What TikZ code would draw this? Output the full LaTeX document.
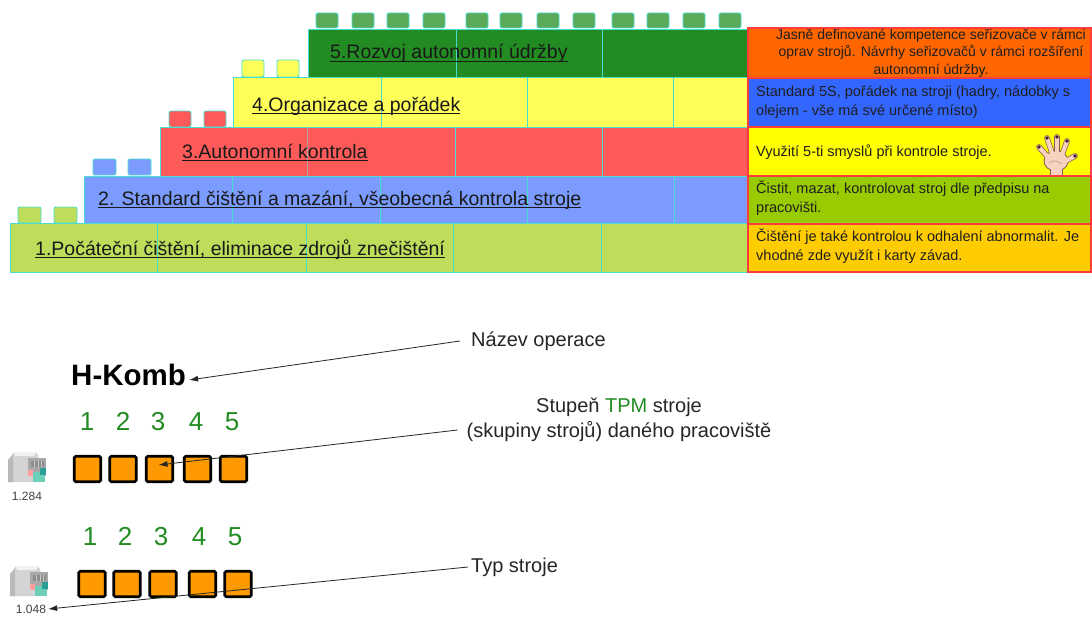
\documentclass[tikz,border=0pt]{standalone}
\usepackage{fontspec}
\setmainfont{Liberation Sans}
\usetikzlibrary{arrows.meta}

\definecolor{rowA}{HTML}{BEDD5A}
\definecolor{rowB}{HTML}{7B9BFF}
\definecolor{rowC}{HTML}{FF5A5A}
\definecolor{rowD}{HTML}{FFFF5A}
\definecolor{rowE}{HTML}{228B22}
\definecolor{studE}{HTML}{5AAA5A}
\definecolor{seam}{HTML}{48DDD0}
\definecolor{boxEdge}{HTML}{FF3B3B}
\definecolor{bxOrange}{HTML}{FF6600}
\definecolor{bxBlue}{HTML}{3366FF}
\definecolor{bxYellow}{HTML}{FFFF00}
\definecolor{bxGreen}{HTML}{99CC00}
\definecolor{bxGold}{HTML}{FFCC00}
\definecolor{levelGreen}{HTML}{228B22}
\definecolor{cellOrange}{HTML}{FF9900}
\definecolor{skin}{HTML}{F6D3BE}
\definecolor{handEdge}{HTML}{8A5A50}
\definecolor{nail}{HTML}{3A2028}
\definecolor{steel}{HTML}{D4D4D4}
\definecolor{steelDark}{HTML}{A8A8A8}
\definecolor{coolant}{HTML}{6CCFB8}

% underline drawn at a fixed depth below the baseline
\newcommand{\ulbar}[1]{\begingroup\setbox0\hbox{#1}\rlap{\rule[-3pt]{\wd0}{1.2pt}}\box0\endgroup}

\tikzset{
  brick/.style={draw=seam, line width=0.9pt},
  seamline/.style={draw=seam, line width=0.9pt},
  stud/.style={draw=seam, line width=0.9pt, rounded corners=2pt},
  blabel/.style={anchor=base west, inner sep=0pt, font=\fontsize{19.5}{22}\selectfont, text=black!90},
  rbox/.style={draw=boxEdge, line width=1.3pt, minimum width=343pt, inner sep=0pt},
  rtext/.style={font=\fontsize{14.5}{18.5}\selectfont, inner sep=0pt, text=black!88},
  cell/.style={draw=black, line width=2.7pt, fill=cellOrange, rounded corners=1.5pt,
    minimum width=26.5pt, minimum height=25.5pt, inner sep=0pt},
  digit/.style={font=\fontsize{26}{26}\selectfont, text=levelGreen, inner sep=0pt, anchor=base},
  callout/.style={font=\fontsize{20}{25}\selectfont, inner sep=0pt, text=black!85},
  pointer/.style={draw=black!85, line width=0.8pt, -{Latex[length=9pt,width=6pt]}},
  tag/.style={font=\fontsize{12}{12}\selectfont, inner sep=0pt, text=black!75},
  machine/.pic={
    \fill[steel] (0,8) -- (6,0) -- (28,0) -- (30,3) -- (30,30) -- (0,30) -- cycle;
    \fill[steelDark!80] (0,8) -- (5,3) -- (5,30) -- (0,30) -- cycle;
    \fill[white!70!steel] (6,0) -- (28,0) -- (26,4) -- (7,4) -- cycle;
    \fill[steelDark] (20,6) rectangle (38,24);
    \fill[black!45] (23,9) rectangle (36,15);
    \draw[steelDark!60, line width=0.6pt] (26,9) -- (26,15) (30,9) -- (30,15) (33,9) -- (33,15);
    \fill[pink!70!red!80] (20,18) rectangle (25,24);
    \fill[coolant] (25,20) rectangle (37,30);
    \fill[teal!60!coolant] (32,16) rectangle (38,23);
  },
  hand/.pic={
    \foreach \bx/\by/\tx/\ty in {12/22/4/13, 17/19/12/4, 22/19/22/3, 27/21/32/7, 29/28/40/22}
      \draw[handEdge, line width=5.6pt, line cap=round] (\bx,\by) -- (\tx,\ty);
    \fill[handEdge] (21,27) ellipse (12.5 and 10.5);
    \fill[handEdge] (14.5,33) rectangle (27.5,41);
    \foreach \bx/\by/\tx/\ty in {12/22/4/13, 17/19/12/4, 22/19/22/3, 27/21/32/7, 29/28/40/22}
      \draw[skin, line width=4.2pt, line cap=round] (\bx,\by) -- (\tx,\ty);
    \fill[skin] (21,27) ellipse (11.5 and 9.5);
    \fill[skin] (15.5,32) rectangle (26.5,41);
    \foreach \tx/\ty in {4/13, 12/4, 22/3, 32/7, 40/22}
      \fill[nail] (\tx,\ty) circle (1.8);
    \draw[handEdge!70, line width=0.5pt] (14,29) .. controls (20,26) .. (27,30);
  },
}

\begin{document}
\begin{tikzpicture}[x=1pt, y=-1pt]
\useasboundingbox (0,0) rectangle (1092,618);
\fill[white] (0,0) rectangle (1092,618);

% ---------- level 5 ----------
\foreach \sx in {316,352,387,423,466,500,537,573,612,647,683,719}
  \draw[stud, fill=studE] (\sx,13) rectangle ++(22,15);
\draw[brick, fill=rowE] (308,29) rectangle (748,77);
\foreach \dx in {456,602} \draw[seamline] (\dx,29) -- (\dx,77);

% ---------- level 4 ----------
\foreach \sx in {242,277} \draw[stud, fill=rowD] (\sx,60) rectangle ++(22,17);
\draw[brick, fill=rowD] (233,77) rectangle (748,127);
\foreach \dx in {381,527,673} \draw[seamline] (\dx,77) -- (\dx,127);

% ---------- level 3 ----------
\foreach \sx in {169,204} \draw[stud, fill=rowC] (\sx,111) rectangle ++(22,16);
\draw[brick, fill=rowC] (160,127) rectangle (748,176);
\draw[gray!70, line width=0.9pt] (307,127) -- (307,176);
\foreach \dx in {455,602} \draw[seamline] (\dx,127) -- (\dx,176);

% ---------- level 2 ----------
\foreach \sx in {93,128} \draw[stud, fill=rowB] (\sx,159) rectangle ++(23,16);
\draw[brick, fill=rowB] (84,176) rectangle (748,223);
\foreach \dx in {232,380,527,674} \draw[seamline] (\dx,176) -- (\dx,223);

% ---------- level 1 ----------
\foreach \sx in {18,54} \draw[stud, fill=rowA] (\sx,207) rectangle ++(23,16);
\draw[brick, fill=rowA] (10,223) rectangle (748,272);
\foreach \dx in {157,306,453,601} \draw[seamline] (\dx,223) -- (\dx,272);

% level captions
\node[blabel] (l5) at (330,59) {\ulbar{5.Rozvoj autonomní údržby}};
\node[blabel] (l4) at (252,111) {\ulbar{4.Organizace a pořádek}};
\node[blabel] (l3) at (182,158) {\ulbar{3.Autonomní kontrola}};
\node[blabel] (l2) at (98,205) {\ulbar{2. Standard čištění a mazání, všeobecná kontrola stroje}};
\node[blabel] (l1) at (35,255) {\ulbar{1.Počáteční čištění, eliminace zdrojů znečištění}};

% ---------- description column ----------
\node[rbox, fill=bxOrange, minimum height=50pt] (b5) at (919.5,53) {};
\node[rbox, fill=bxBlue,   minimum height=49pt] (b4) at (919.5,102.5) {};
\node[rbox, fill=bxYellow, minimum height=49pt] (b3) at (919.5,151.5) {};
\node[rbox, fill=bxGreen,  minimum height=48pt] (b2) at (919.5,200) {};
\node[rbox, fill=bxGold,   minimum height=48pt] (b1) at (919.5,248) {};

\node[rtext, align=center, font=\fontsize{14}{17.5}\selectfont] (t5) at (931,53)
  {Jasně definované kompetence seřizovače v rámci\\oprav strojů. Návrhy seřizovačů v rámci rozšíření\\autonomní údržby.};
\node[rtext, align=left, anchor=west] (t4) at (756,102)
  {Standard 5S, pořádek na stroji (hadry, nádobky s\\olejem - vše má své určené místo)};
\node[rtext, align=left, anchor=west] (t3) at (756,152)
  {Využití 5-ti smyslů při kontrole stroje.};
\node[rtext, align=left, anchor=west] (t2) at (756,198)
  {Čistit, mazat, kontrolovat stroj dle předpisu na\\pracovišti.};
\node[rtext, align=left, anchor=west] (t1) at (756,246)
  {Čištění je také kontrolou k odhalení abnormalit. Je\\vhodné zde využít i karty závad.};

\pic at (1035,134) {hand};

% ---------- legend ----------
\node[font=\bfseries\fontsize{29.5}{30}\selectfont, anchor=west, inner sep=0pt] (hkomb) at (71,375) {H-Komb};

\foreach \i/\x in {1/87,2/123,3/158,4/196,5/232}
  \node[digit] (da\i) at (\x,430) {\i};
\foreach \i/\x in {1/87.5,2/123,3/159.5,4/197.5,5/233.5}
  \node[cell] (ca\i) at (\x,469) {};

\foreach \i/\x in {1/90,2/125,3/161,4/199,5/235}
  \node[digit] (db\i) at (\x,545) {\i};
\foreach \i/\x in {1/92,2/127,3/163,4/202.5,5/238}
  \node[cell] (cb\i) at (\x,584) {};

\pic at (8,452) {machine};
\node[tag] (m1) at (27,496) {1.284};
\pic at (10,566) {machine};
\node[tag] (m2) at (31,609) {1.048};

\node[callout, anchor=west] (nazev) at (471,341) {Název operace};
\node[callout, align=center] (stupen) at (619,420)
  {Stupeň \textcolor{levelGreen}{TPM} stroje\\(skupiny strojů) daného pracoviště};
\node[callout, anchor=west] (typ) at (471,567) {Typ stroje};

\draw[pointer] ([xshift=-11pt]nazev.west) -- ([shift={(3,5)}]hkomb.east);
\draw[pointer] ([shift={(-9,10)}]stupen.west) -- ([shift={(-1,-4)}]ca3.center);
\draw[pointer] ([xshift=-3pt]typ.west) -- ([xshift=2pt]m2.east);
\end{tikzpicture}
\end{document}
